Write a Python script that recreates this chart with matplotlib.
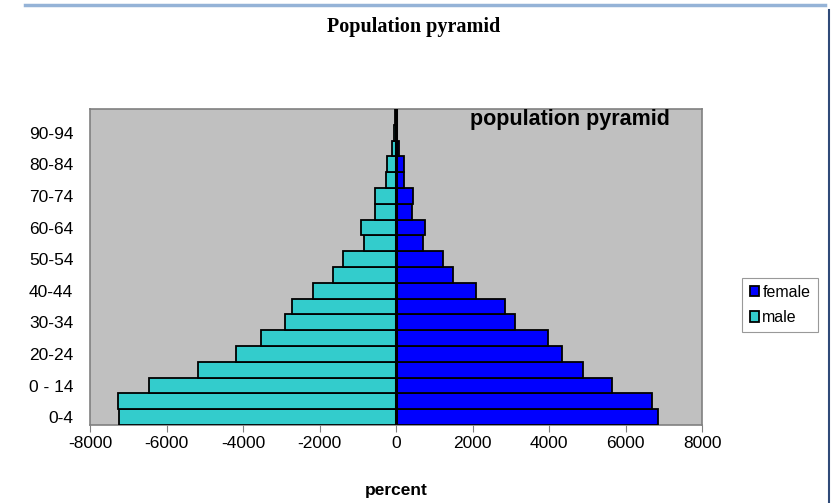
import matplotlib
matplotlib.use("Agg")
import matplotlib.pyplot as plt
import numpy as np

# age groups (index 2 is labelled "0 - 14" in the original)
age_groups = ["0-4", "5-9", "0 - 14", "15-19", "20-24", "25-29", "30-34", "35-39",
              "40-44", "45-49", "50-54", "55-59", "60-64", "65-69", "70-74",
              "75-79", "80-84", "85-89", "90-94", "95-99"]

male = [-7236, -7262, -6466, -5175, -4181, -3526, -2898, -2723, -2173, -1641,
        -1393, -838, -908, -550, -550, -272, -236, -97, -63, -20]
female = [6840, 6691, 5654, 4877, 4327, 3979, 3123, 2853, 2102, 1482,
          1230, 697, 749, 418, 444, 200, 200, 69, 20, 10]

plt.rcParams['font.family'] = ['Liberation Sans', 'DejaVu Sans']
plt.rcParams['axes.unicode_minus'] = False

fig = plt.figure(figsize=(8.31, 5.03), dpi=100)
W, H = 831, 503
ax = fig.add_axes([90 / W, (H - 425) / H, 612 / W, 316 / H])

y = np.arange(len(age_groups))
ax.barh(y, female, height=1.0, color='#0000FF', edgecolor='black', linewidth=1.3,
        label='female', zorder=3)
ax.barh(y, male, height=1.0, color='#33CCCC', edgecolor='black', linewidth=1.3,
        label='male', zorder=3)
ax.axvline(0, color='black', linewidth=2.2, zorder=4)

ax.set_facecolor('#C0C0C0')
ax.set_xlim(-8000, 8000)
ax.set_ylim(-0.5, len(age_groups) - 0.5)
ax.set_xticks(np.arange(-8000, 8001, 2000))
ax.set_yticks(y[::2])
ax.set_yticklabels(age_groups[::2])
ax.tick_params(axis='y', length=0, labelsize=12.5, pad=12)
ax.tick_params(axis='x', length=5, color='#808080', labelsize=12.5, pad=3)
for s in ax.spines.values():
    s.set_color('#808080')
    s.set_linewidth(1.2)

ax.set_xlabel('percent', fontsize=12.5, fontweight='bold', labelpad=23)
ax.text(0.784, 1.0, 'population pyramid', transform=ax.transAxes, ha='center', va='top',
        fontsize=15.5, fontweight='bold')

leg = ax.legend(loc='center left', bbox_to_anchor=(1.066, 0.38), frameon=True, fancybox=False,
                fontsize=11.5, handlelength=0.6, handleheight=0.6, handletextpad=0.2,
                borderpad=0.45, labelspacing=0.65, borderaxespad=0)
leg.get_frame().set_edgecolor('#808080')
leg.get_frame().set_linewidth(0.8)

fig.text(414 / W, 1 - 27 / H, 'Population pyramid', ha='center', va='center',
         fontsize=14.5, fontweight='bold', family='Liberation Serif')

# page decorations around the chart
fig.add_artist(plt.Line2D([25 / W, 825 / W], [1 - 4.5 / H, 1 - 4.5 / H], color='#95B3D7',
                          linewidth=2.5, transform=fig.transFigure))
fig.add_artist(plt.Line2D([829 / W, 829 / W], [0, 1 - 10 / H], color='#2F4A78',
                          linewidth=1.5, transform=fig.transFigure))

fig.savefig('out.png', dpi=100)
